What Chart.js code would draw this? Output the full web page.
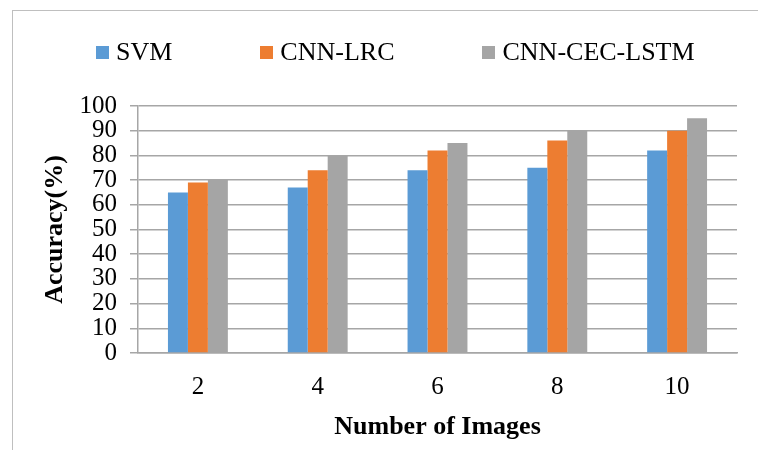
<!DOCTYPE html>
<html>
    <head>
        <title>Accuracy vs number of images</title>
        <meta charset="UTF-8">
        <script src="https://cdn.jsdelivr.net/npm/chart.js@4.4.0/dist/chart.umd.min.js"></script>
        <style>
            body { margin: 0; background: #fff; }
            #frame {
                position: absolute; left: 12px; top: 10px;
                width: 800px; height: 500px;
                border-left: 1px solid #bfbfbf; border-top: 1px solid #bfbfbf;
            }
            #wrap { position: absolute; left: 0; top: 0; width: 758px; height: 450px; }
            #legend {
                position: absolute; left: 96px; top: 37px;
                display: flex; gap: 88px;
                font-family: 'Liberation Serif', 'Times New Roman', serif;
                font-size: 26px; line-height: 30px; color: #000;
            }
            #legend span.item { display: flex; align-items: center; }
            #legend span.box { display: inline-block; width: 13px; height: 13px; margin-right: 7px; }
        </style>
    </head>
    <body>
        <div id="frame"></div>
        <div id="wrap">
            <canvas id="accChart" width="758" height="450"></canvas>
            <div id="legend"></div>
        </div>

        <script>
            // values
            var imageCounts = ['2', '4', '6', '8', '10'];
            var seriesNames = ['SVM', 'CNN-LRC', 'CNN-CEC-LSTM'];
            var svmAcc = [65, 67, 74, 75, 82];
            var lrcAcc = [69, 74, 82, 86, 90];
            var lstmAcc = [70, 80, 85, 90, 95];
            var yTicks = [0, 10, 20, 30, 40, 50, 60, 70, 80, 90, 100];

            var colors = ['#5b9bd5', '#ed7d31', '#a5a5a5'];
            var serif = "'Liberation Serif', 'Times New Roman', serif";
            var gridColor = '#a6a6a6';

            var datasets = [svmAcc, lrcAcc, lstmAcc].map(function (vals, i) {
                return {
                    label: seriesNames[i],
                    data: vals,
                    backgroundColor: colors[i],
                    categoryPercentage: 0.5,
                    barPercentage: 1.0
                };
            });

            // html legend built from the datasets
            var legend = document.getElementById('legend');
            datasets.forEach(function (ds) {
                var item = document.createElement('span');
                item.className = 'item';
                var box = document.createElement('span');
                box.className = 'box';
                box.style.background = ds.backgroundColor;
                item.appendChild(box);
                item.appendChild(document.createTextNode(ds.label));
                legend.appendChild(item);
            });

            new Chart(document.getElementById('accChart'), {
                type: 'bar',
                data: { labels: imageCounts, datasets: datasets },
                options: {
                    responsive: false,
                    animation: false,
                    layout: { padding: { top: 106, right: 21, bottom: 0, left: 0 } },
                    plugins: {
                        legend: { display: false },
                        tooltip: { enabled: false }
                    },
                    scales: {
                        x: {
                            afterFit: function (s) { s.height = 97; },
                            grid: { display: false },
                            border: { display: true, color: gridColor, width: 1.5 },
                            ticks: { color: '#000', padding: 11, font: { family: serif, size: 25 } },
                            title: {
                                display: true, text: 'Number of Images', color: '#000',
                                font: { family: serif, size: 26, weight: 'bold' },
                                padding: { top: 0, bottom: 7 }
                            }
                        },
                        y: {
                            min: 0, max: 100,
                            afterFit: function (s) { s.width = 138; },
                            afterBuildTicks: function (s) {
                                s.ticks = yTicks.map(function (v) { return { value: v }; });
                            },
                            grid: { color: gridColor, lineWidth: 1.5, tickLength: 8 },
                            border: { display: true, color: gridColor, width: 1.5 },
                            ticks: { color: '#000', padding: 13, autoSkip: false, font: { family: serif, size: 25 } },
                            title: {
                                display: true, text: 'Accuracy(%)', color: '#000',
                                font: { family: serif, size: 26, weight: 'bold' },
                                padding: { top: 40, bottom: 0 }
                            }
                        }
                    }
                }
            });
        </script>
    </body>
</html>
